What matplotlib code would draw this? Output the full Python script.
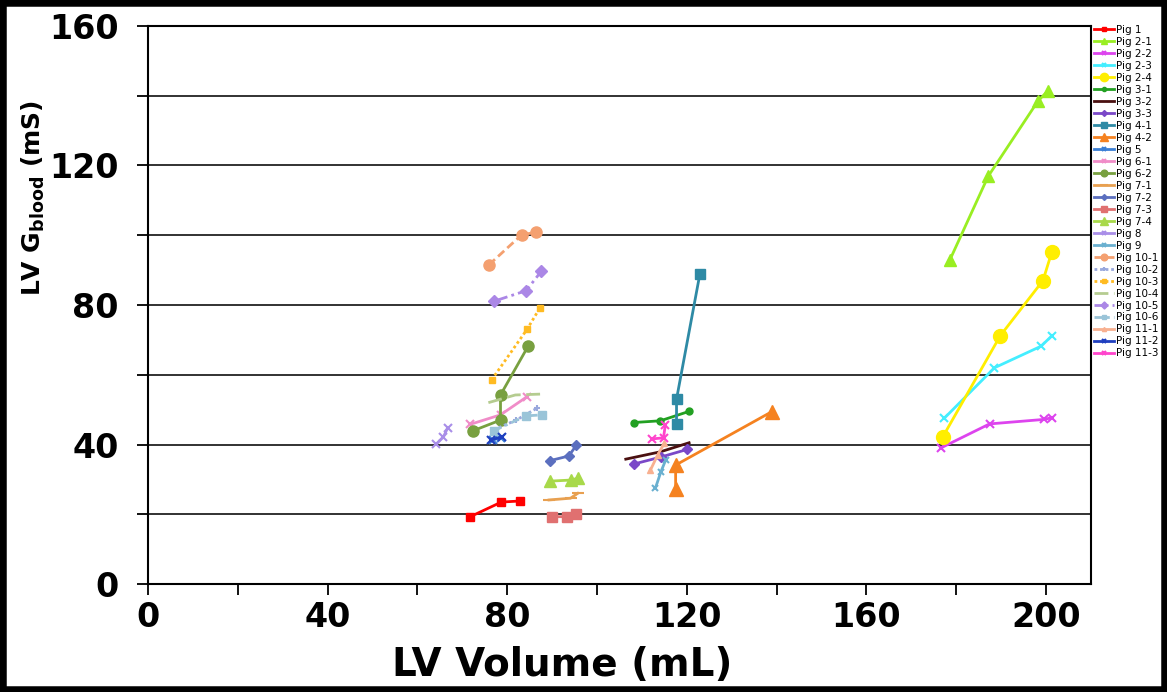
import matplotlib
matplotlib.use("Agg")
import matplotlib.pyplot as plt
from matplotlib.patches import Rectangle

plt.rcParams['font.family'] = ['DejaVu Sans']
plt.rcParams['mathtext.fontset'] = 'dejavusans'

# ---------------------------------
# Data (LV volume mL, G blood mS)
# ---------------------------------
pig_names = ["Pig 1", "Pig 2-1", "Pig 2-2", "Pig 2-3", "Pig 2-4", "Pig 3-1",
             "Pig 3-2", "Pig 3-3", "Pig 4-1", "Pig 4-2", "Pig 5", "Pig 6-1",
             "Pig 6-2", "Pig 7-1", "Pig 7-2", "Pig 7-3", "Pig 7-4", "Pig 8",
             "Pig 9", "Pig 10-1", "Pig 10-2", "Pig 10-3", "Pig 10-4",
             "Pig 10-5", "Pig 10-6", "Pig 11-1", "Pig 11-2", "Pig 11-3"]

vol_pig1 = [71.6, 78.7, 82.9]
g_pig1 = [19.2, 23.5, 23.8]
vol_pig2_1 = [178.6, 187.1, 198.2, 200.4]
g_pig2_1 = [93.0, 116.9, 138.5, 141.4]
vol_pig2_2 = [176.7, 187.4, 199.6, 201.3]
g_pig2_2 = [39.1, 45.9, 47.2, 47.7]
vol_pig2_3 = [177.3, 188.5, 198.9, 201.3]
g_pig2_3 = [47.5, 62.0, 68.2, 71.2]
vol_pig2_4 = [177.0, 189.8, 199.3, 201.3]
g_pig2_4 = [42.2, 71.2, 87.0, 95.3]
vol_pig3_1 = [108.2, 114.1, 120.5]
g_pig3_1 = [46.3, 46.8, 49.5]
vol_pig3_2 = [106.4, 114.1, 120.5]
g_pig3_2 = [35.8, 37.9, 40.5]
vol_pig3_3 = [108.2, 114.2, 120.1]
g_pig3_3 = [34.4, 36.4, 38.6]
vol_pig4_1 = [117.7, 117.7, 122.9]
g_pig4_1 = [45.8, 53.0, 88.9]
vol_pig4_2 = [117.5, 117.5, 138.9]
g_pig4_2 = [27.2, 34.1, 49.4]
vol_pig5 = [76.8, 78.6]
g_pig5 = [41.3, 42.0]
vol_pig6_1 = [71.8, 78.5, 84.4]
g_pig6_1 = [45.8, 48.5, 53.7]
vol_pig6_2 = [72.3, 78.5, 78.5, 84.7]
g_pig6_2 = [43.9, 47.0, 54.2, 68.3]
vol_pig7_1 = [89.3, 94.1, 95.7]
g_pig7_1 = [24.1, 24.6, 26.0]
vol_pig7_2 = [89.6, 93.7, 95.4]
g_pig7_2 = [35.4, 36.7, 39.8]
vol_pig7_3 = [90.0, 93.3, 95.4]
g_pig7_3 = [19.3, 19.3, 20.1]
vol_pig7_4 = [89.6, 94.1, 95.7]
g_pig7_4 = [29.5, 29.8, 30.3]
vol_pig8 = [64.2, 65.8, 66.7]
g_pig8 = [40.1, 42.2, 44.7]
vol_pig9 = [113.0, 114.2, 115.3]
g_pig9 = [27.5, 32.1, 35.6]
vol_pig10_1 = [75.9, 83.2, 86.5]
g_pig10_1 = [91.5, 100.1, 100.9]
vol_pig10_2 = [77.0, 82.0, 86.6]
g_pig10_2 = [44.2, 47.0, 50.4]
vol_pig10_3 = [76.5, 84.4, 87.2]
g_pig10_3 = [58.5, 73.0, 79.0]
vol_pig10_4 = [75.8, 81.8, 88.5]
g_pig10_4 = [52.0, 54.2, 54.5]
vol_pig10_5 = [77.1, 84.2, 87.6]
g_pig10_5 = [81.1, 84.1, 89.7]
vol_pig10_6 = [77.0, 84.1, 87.8]
g_pig10_6 = [43.9, 48.2, 48.5]
vol_pig11_1 = [111.9, 113.5, 115.0]
g_pig11_1 = [32.7, 37.0, 40.4]
vol_pig11_2 = [76.3, 78.9]
g_pig11_2 = [41.3, 42.2]
vol_pig11_3 = [112.2, 114.8, 115.2]
g_pig11_3 = [41.6, 41.9, 45.6]

volumes = [vol_pig1, vol_pig2_1, vol_pig2_2, vol_pig2_3, vol_pig2_4, vol_pig3_1,
           vol_pig3_2, vol_pig3_3, vol_pig4_1, vol_pig4_2, vol_pig5, vol_pig6_1,
           vol_pig6_2, vol_pig7_1, vol_pig7_2, vol_pig7_3, vol_pig7_4, vol_pig8,
           vol_pig9, vol_pig10_1, vol_pig10_2, vol_pig10_3, vol_pig10_4,
           vol_pig10_5, vol_pig10_6, vol_pig11_1, vol_pig11_2, vol_pig11_3]
gblood = [g_pig1, g_pig2_1, g_pig2_2, g_pig2_3, g_pig2_4, g_pig3_1,
          g_pig3_2, g_pig3_3, g_pig4_1, g_pig4_2, g_pig5, g_pig6_1,
          g_pig6_2, g_pig7_1, g_pig7_2, g_pig7_3, g_pig7_4, g_pig8,
          g_pig9, g_pig10_1, g_pig10_2, g_pig10_3, g_pig10_4,
          g_pig10_5, g_pig10_6, g_pig11_1, g_pig11_2, g_pig11_3]

# ---------------------------------
# Styles: colour, marker, marker size, line style
# ---------------------------------
styles = [
    ("#ff0000", "s", 6, "-"),
    ("#99ee22", "^", 8, "-"),
    ("#dd44ee", "x", 6, "-"),
    ("#44eeff", "x", 6, "-"),
    ("#ffee00", "o", 10, "-"),
    ("#22a022", "o", 5, "-"),
    ("#4a1010", "", 0, "-"),
    ("#7a48c8", "D", 5, "-"),
    ("#2e8aa5", "s", 7, "-"),
    ("#f58220", "^", 10, "-"),
    ("#3a7fd5", "x", 6, "-"),
    ("#f08cc8", "x", 6, "-"),
    ("#78a040", "o", 8, "-"),
    ("#e8a050", "_", 9, "-"),
    ("#5b6fbf", "D", 5, "-"),
    ("#e07070", "s", 7, "-"),
    ("#a8d94a", "^", 9, "-"),
    ("#a98ee8", "x", 6, "-"),
    ("#6ab0d0", "x", 5, "-"),
    ("#f4a070", "o", 8, (0, (3, 1.5))),
    ("#99a8dd", "+", 5, (0, (1, 1))),
    ("#ffbb22", "s", 5, (0, (1, 1))),
    ("#b5cc90", "", 0, (0, (5, 2))),
    ("#ab87e6", "D", 6, (0, (5, 1.5, 1, 1.5))),
    ("#9ac4d8", "s", 6, (0, (3, 1.5, 1, 1.5))),
    ("#f8b090", "^", 5, "-"),
    ("#1f3fbf", "x", 6, "-"),
    ("#ff44cc", "x", 6, "-"),
]

fig = plt.figure(figsize=(11.67, 6.92), dpi=100)
ax = fig.add_axes([148 / 1167, 1 - 584 / 692, (1091 - 148) / 1167, (584 - 26) / 692])

for name, xs, ys, (col, mk, ms, ls) in zip(pig_names, volumes, gblood, styles):
    ax.plot(xs, ys, color=col, marker=mk if mk else None, markersize=ms,
            markeredgewidth=1.5 if mk in ("x", "+", "_") else 1,
            linestyle=ls, linewidth=2, label=name, zorder=3)

ax.set_xlim(0, 210)
ax.set_ylim(0, 160)
ax.set_xticks([0, 40, 80, 120, 160, 200])
ax.set_xticks([20, 60, 100, 140, 180], minor=True)
ax.set_yticks([0, 40, 80, 120, 160])
ax.set_yticks([20, 60, 100, 140], minor=True)
for v in [20, 40, 60, 80, 100, 120, 140]:
    ax.axhline(v, color="#222222", linewidth=1.3, zorder=1)

ax.tick_params(which="both", direction="out", length=8, width=1.3, color="black")
ax.tick_params(axis="both", labelsize=24)
ax.tick_params(axis="x", pad=4)
ax.tick_params(axis="y", pad=13)
for lab in ax.get_xticklabels() + ax.get_yticklabels():
    lab.set_fontweight("bold")
for sp in ax.spines.values():
    sp.set_linewidth(1.5)
    sp.set_color("black")

ax.set_xlabel("LV Volume (mL)", fontsize=28, fontweight="bold")
ax.xaxis.set_label_coords((562 - 148) / 943, -0.112)
ax.set_ylabel(r"LV G$_{\mathbf{blood}}$ (mS)", fontsize=18, fontweight="bold")
ax.yaxis.set_label_coords(-0.107, 0.692)

leg = fig.legend(loc="upper left", bbox_to_anchor=(1094 / 1167, 1 - 25 / 692),
                 fontsize=7.5, frameon=False, handlelength=1.9, handletextpad=0.2,
                 labelspacing=0.19, borderpad=0, borderaxespad=0, markerscale=0.6)

# black frame round the whole picture
fig.patches.append(Rectangle((0, 0), 1, 1, transform=fig.transFigure,
                             fill=False, edgecolor="black", linewidth=9))

fig.savefig("out.png", dpi=100)
